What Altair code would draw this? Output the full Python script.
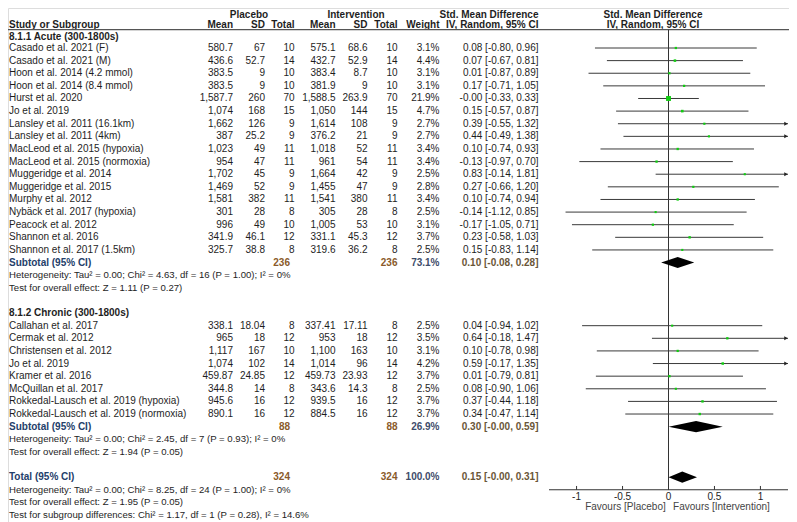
import altair as alt
import pandas as pd

# ---------------- data ----------------
acute_studies = ["Casado et al. 2021 (F)", "Casado et al. 2021 (M)", "Hoon et al. 2014 (4.2 mmol)",
                 "Hoon et al. 2014 (8.4 mmol)", "Hurst et al. 2020", "Jo et al. 2019",
                 "Lansley et al. 2011 (16.1km)", "Lansley et al. 2011 (4km)", "MacLeod et al. 2015 (hypoxia)",
                 "MacLeod et al. 2015 (normoxia)", "Muggeridge et al. 2014", "Muggeridge et al. 2015",
                 "Murphy et al. 2012", "Nybäck et al. 2017 (hypoxia)", "Peacock et al. 2012",
                 "Shannon et al. 2016", "Shannon et al. 2017 (1.5km)"]
acute_pl_mean = [580.7, 436.6, 383.5, 383.5, 1587.7, 1074, 1662, 387, 1023, 954, 1702, 1469, 1581, 301, 996, 341.9, 325.7]
acute_pl_sd = [67, 52.7, 9, 9, 260, 168, 126, 25.2, 49, 47, 45, 52, 382, 28, 49, 46.1, 38.8]
acute_pl_n = [10, 14, 10, 10, 70, 15, 9, 9, 11, 11, 9, 9, 11, 8, 10, 12, 8]
acute_in_mean = [575.1, 432.7, 383.4, 381.9, 1588.5, 1050, 1614, 376.2, 1018, 961, 1664, 1455, 1541, 305, 1005, 331.1, 319.6]
acute_in_sd = [68.6, 52.9, 8.7, 9, 263.9, 144, 108, 21, 52, 54, 42, 47, 380, 28, 53, 45.3, 36.2]
acute_in_n = [10, 14, 10, 10, 70, 15, 9, 9, 11, 11, 9, 9, 11, 8, 10, 12, 8]
acute_weight = [3.1, 4.4, 3.1, 3.1, 21.9, 4.7, 2.7, 2.7, 3.4, 3.4, 2.5, 2.8, 3.4, 2.5, 3.1, 3.7, 2.5]
acute_smd = [0.08, 0.07, 0.01, 0.17, -0.0, 0.15, 0.39, 0.44, 0.10, -0.13, 0.83, 0.27, 0.10, -0.14, -0.17, 0.23, 0.15]
acute_lo = [-0.80, -0.67, -0.87, -0.71, -0.33, -0.57, -0.55, -0.49, -0.74, -0.97, -0.14, -0.66, -0.74, -1.12, -1.05, -0.58, -0.83]
acute_hi = [0.96, 0.81, 0.89, 1.05, 0.33, 0.87, 1.32, 1.38, 0.93, 0.70, 1.81, 1.20, 0.94, 0.85, 0.71, 1.03, 1.14]

chronic_studies = ["Callahan et al. 2017", "Cermak et al. 2012", "Christensen et al. 2012", "Jo et al. 2019",
                   "Kramer et al. 2016", "McQuillan et al. 2017", "Rokkedal-Lausch et al. 2019 (hypoxia)",
                   "Rokkedal-Lausch et al. 2019 (normoxia)"]
chronic_pl_mean = [338.1, 965, 1117, 1074, 459.87, 344.8, 945.6, 890.1]
chronic_pl_sd = [18.04, 18, 167, 102, 24.85, 14, 16, 16]
chronic_pl_n = [8, 12, 10, 14, 12, 8, 12, 12]
chronic_in_mean = [337.41, 953, 1100, 1014, 459.73, 343.6, 939.5, 884.5]
chronic_in_sd = [17.11, 18, 163, 96, 23.93, 14.3, 16, 16]
chronic_in_n = [8, 12, 10, 14, 12, 8, 12, 12]
chronic_weight = [2.5, 3.5, 3.1, 4.2, 3.7, 2.5, 3.7, 3.7]
chronic_smd = [0.04, 0.64, 0.10, 0.59, 0.01, 0.08, 0.37, 0.34]
chronic_lo = [-0.94, -0.18, -0.78, -0.17, -0.79, -0.90, -0.44, -0.47]
chronic_hi = [1.02, 1.47, 0.98, 1.35, 0.81, 1.06, 1.18, 1.14]

summary_labels = ["Subtotal (95% CI)", "Subtotal (95% CI)", "Total (95% CI)"]
summary_n = [236, 88, 324]
summary_weight = [73.1, 26.9, 100.0]
summary_smd = [0.10, 0.30, 0.15]
summary_lo = [-0.08, -0.0, -0.0]
summary_hi = [0.28, 0.59, 0.31]

group_titles = ["8.1.1 Acute (300-1800s)", "8.1.2 Chronic (300-1800s)"]
footnotes = [
    "Heterogeneity: Tau² = 0.00; Chi² = 4.63, df = 16 (P = 1.00); I² = 0%",
    "Test for overall effect: Z = 1.11 (P = 0.27)",
    "Heterogeneity: Tau² = 0.00; Chi² = 2.45, df = 7 (P = 0.93); I² = 0%",
    "Test for overall effect: Z = 1.94 (P = 0.05)",
    "Heterogeneity: Tau² = 0.00; Chi² = 8.25, df = 24 (P = 1.00); I² = 0%",
    "Test for overall effect: Z = 1.95 (P = 0.05)",
    "Test for subgroup differences: Chi² = 1.17, df = 1 (P = 0.28), I² = 14.6%",
]
tick_values = [-1, -0.5, 0, 0.5, 1]
tick_labels = ["-1", "-0.5", "0", "0.5", "1"]
favours = ["Favours [Placebo]", "Favours [Intervention]"]

# ---------------- layout / style ----------------
FONT = "Liberation Sans"
FS = 10
FS_NOTE = 9.6
TXT = "#1e1e1e"
NAVY = "#24406a"
BROWN = "#8a5a2a"
SUMW = "#3e4c6a"
SUMCI = "#6a5638"
W, H = 781, 514

yscale = alt.Scale(domain=[0, 37], range=[40, 507], nice=False, zero=False)
xscale = alt.Scale(domain=[-1.3, 1.3], range=[541, 780], nice=False, zero=False, clamp=True)

R_TOP, R_HEAD, R_RULE, R_GROUP = -2.62, -1.80, -1.45, -0.87


def fmt(v):
    return f"{v:,}"


def build_rows(studies, pm, psd, pn, im, isd, inn, w, smd, lo, hi, start):
    return pd.DataFrame({
        "row": [start + i for i in range(len(studies))],
        "study": studies,
        "pm": [fmt(v) for v in pm], "psd": [fmt(v) for v in psd], "pn": [str(v) for v in pn],
        "im": [fmt(v) for v in im], "isd": [fmt(v) for v in isd], "inn": [str(v) for v in inn],
        "w": [f"{v:.1f}%" for v in w],
        "ci": [f"{s:.2f} [{l:.2f}, {h:.2f}]" for s, l, h in zip(smd, lo, hi)],
        "wt": w, "smd": smd, "lo": lo, "hi": hi,
    })


acute = build_rows(acute_studies, acute_pl_mean, acute_pl_sd, acute_pl_n, acute_in_mean, acute_in_sd,
                   acute_in_n, acute_weight, acute_smd, acute_lo, acute_hi, 0)
chronic = build_rows(chronic_studies, chronic_pl_mean, chronic_pl_sd, chronic_pl_n, chronic_in_mean,
                     chronic_in_sd, chronic_in_n, chronic_weight, chronic_smd, chronic_lo, chronic_hi, 22)
studies = pd.concat([acute, chronic], ignore_index=True)

summary_rows = [17, 30, 34]
summ = pd.DataFrame({
    "row": summary_rows, "label": summary_labels, "n": [str(v) for v in summary_n],
    "w": [f"{v:.1f}%" for v in summary_weight],
    "ci": [f"{s:.2f} [{l:.2f}, {h:.2f}]" for s, l, h in zip(summary_smd, summary_lo, summary_hi)],
})

Y = lambda f="row": alt.Y(f"{f}:Q", scale=yscale, axis=None)


def col(df, field, x, align, bold=False, color=TXT, size=FS):
    return alt.Chart(df).mark_text(
        align=align, baseline="middle", font=FONT, fontSize=size,
        fontWeight="bold" if bold else "normal", color=color
    ).encode(x=alt.value(x), y=Y(), text=f"{field}:N")


def label(text, x, row, align="left", bold=False, color=TXT, size=FS):
    return col(pd.DataFrame({"row": [row], "t": [text]}), "t", x, align, bold, color, size)


layers = []

# header
layers += [
    label("Placebo", 241, R_TOP, "center", True),
    label("Intervention", 348, R_TOP, "center", True),
    label("Std. Mean Difference", 530.5, R_TOP, "right", True),
    label("Std. Mean Difference", 645, R_TOP, "center", True),
    label("Study or Subgroup", 1, R_HEAD, "left", True),
    label("Mean", 225, R_HEAD, "right", True),
    label("SD", 257, R_HEAD, "right", True),
    label("Total", 286.5, R_HEAD, "right", True),
    label("Mean", 327.5, R_HEAD, "right", True),
    label("SD", 359.5, R_HEAD, "right", True),
    label("Total", 389.5, R_HEAD, "right", True),
    label("Weight", 431.5, R_HEAD, "right", True),
    label("IV, Random, 95% CI", 530.5, R_HEAD, "right", True),
    label("IV, Random, 95% CI", 645, R_HEAD, "center", True),
]
layers.append(
    alt.Chart(pd.DataFrame({"row": [R_RULE]})).mark_rule(color="#555555", strokeWidth=1.2)
    .encode(x=alt.value(0), x2=alt.value(W), y=Y())
)

# group titles
layers.append(label(group_titles[0], 1, R_GROUP, "left", True))
layers.append(label(group_titles[1], 1, 21, "left", True))

# study table columns
for field, x, align in [("study", 1, "left"), ("pm", 225, "right"), ("psd", 257, "right"),
                        ("pn", 286.5, "right"), ("im", 327.5, "right"), ("isd", 359.5, "right"),
                        ("inn", 389.5, "right"), ("w", 431.5, "right"), ("ci", 530.5, "right")]:
    layers.append(col(studies, field, x, align))

# summary rows
layers += [
    col(summ, "label", 1, "left", True, NAVY),
    col(summ, "n", 282, "right", True, BROWN),
    col(summ, "n", 389.5, "right", True, BROWN),
    col(summ, "w", 431.5, "right", True, SUMW),
    col(summ, "ci", 530.5, "right", True, SUMCI),
]

# footnotes
for r, t in zip([18, 19, 31, 32, 35, 36, 37], footnotes):
    layers.append(label(t, 1, r, size=FS_NOTE))

# ---------------- forest ----------------
layers.append(
    alt.Chart(pd.DataFrame({"x": [0], "y1": [R_RULE], "y2": [35]})).mark_rule(color="#333333", strokeWidth=1)
    .encode(x=alt.X("x:Q", scale=xscale, axis=None), y=Y("y1"), y2="y2:Q")
)
layers.append(
    alt.Chart(studies).mark_rule(color="#3a3a3a", strokeWidth=1)
    .encode(x=alt.X("lo:Q", scale=xscale, axis=None), x2="hi:Q", y=Y())
)
layers.append(
    alt.Chart(studies).transform_filter("datum.hi > 1.3")
    .mark_point(shape="triangle-right", filled=True, color="#222222", size=16, opacity=1, xOffset=-2)
    .encode(x=alt.X("hi:Q", scale=xscale, axis=None), y=Y())
)
layers.append(
    alt.Chart(studies).mark_point(shape="square", filled=True, color="#11cc11", opacity=1)
    .encode(x=alt.X("smd:Q", scale=xscale, axis=None), y=Y(),
            size=alt.Size("wt:Q", scale=alt.Scale(domain=[0, 21.9], range=[2, 24]), legend=None))
)

# diamonds
dia = []
for i, (r, s, l, h) in enumerate(zip(summary_rows, summary_smd, summary_lo, summary_hi)):
    dia += [
        {"id": i, "x": l, "y1": r, "y2": r},
        {"id": i, "x": s, "y1": r - 0.44, "y2": r + 0.44},
        {"id": i, "x": h, "y1": r, "y2": r},
    ]
layers.append(
    alt.Chart(pd.DataFrame(dia)).mark_area(color="black", orient="vertical", opacity=1)
    .encode(x=alt.X("x:Q", scale=xscale, axis=None), y=Y("y1"), y2="y2:Q", detail="id:N")
)

# axis
layers.append(
    alt.Chart(pd.DataFrame({"a": [-1.3], "b": [1.3], "row": [35]})).mark_rule(color="#333333")
    .encode(x=alt.X("a:Q", scale=xscale, axis=None), x2="b:Q", y=Y())
)
ticks = pd.DataFrame({"v": tick_values, "t": tick_labels, "r1": [34.7] * 5, "r2": [35] * 5, "row": [35.6] * 5})
layers.append(
    alt.Chart(ticks).mark_rule(color="#333333")
    .encode(x=alt.X("v:Q", scale=xscale, axis=None), y=Y("r1"), y2="r2:Q")
)
layers.append(
    alt.Chart(ticks).mark_text(align="center", baseline="middle", font=FONT, fontSize=FS, color=TXT)
    .encode(x=alt.X("v:Q", scale=xscale, axis=None), y=Y(), text="t:N")
)
fav = pd.DataFrame({"x": [-0.03, 0.05], "t": favours, "row": [36.4, 36.4]})
layers.append(
    alt.Chart(fav.iloc[[0]]).mark_text(align="right", baseline="middle", font=FONT, fontSize=FS, color="#444444")
    .encode(x=alt.X("x:Q", scale=xscale, axis=None), y=Y(), text="t:N")
)
layers.append(
    alt.Chart(fav.iloc[[1]]).mark_text(align="left", baseline="middle", font=FONT, fontSize=FS, color="#444444")
    .encode(x=alt.X("x:Q", scale=xscale, axis=None), y=Y(), text="t:N")
)

chart = alt.layer(*layers).properties(
    width=W, height=H, padding=0, autosize=alt.AutoSizeParams(type="none")
).configure_view(stroke=None).configure(background="white")

chart.save("out.html", embed_options={"renderer": "svg", "actions": False})
